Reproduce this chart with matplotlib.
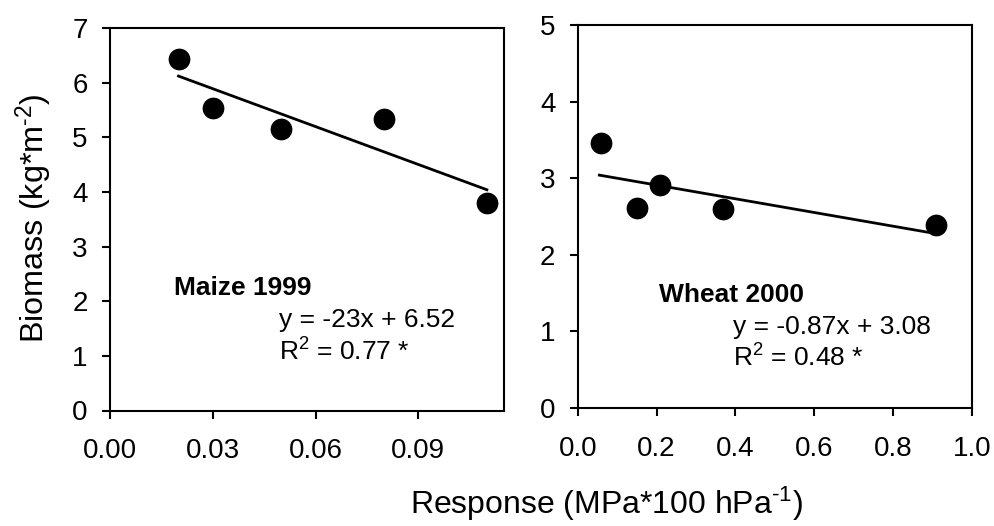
import matplotlib
matplotlib.use('Agg')
import matplotlib.pyplot as plt

plt.rcParams['font.family'] = ['Liberation Sans', 'DejaVu Sans']
plt.rcParams['mathtext.fontset'] = 'custom'
plt.rcParams['mathtext.rm'] = 'Liberation Sans'
plt.rcParams['mathtext.it'] = 'Liberation Sans:italic'
plt.rcParams['mathtext.bf'] = 'Liberation Sans:bold'

# maize 1999
maize_x = [0.02, 0.03, 0.05, 0.08, 0.11]
maize_y = [6.43, 5.53, 5.16, 5.34, 3.79]
maize_fit_x = [0.02, 0.11]
maize_fit_y = [6.12, 4.04]
maize_xticks = [0.00, 0.03, 0.06, 0.09]
maize_xticklabels = ['0.00', '0.03', '0.06', '0.09']
maize_yticks = [0, 1, 2, 3, 4, 5, 6, 7]

# wheat 2000
wheat_x = [0.06, 0.15, 0.21, 0.37, 0.91]
wheat_y = [3.46, 2.61, 2.91, 2.60, 2.39]
wheat_fit_x = [0.055, 0.905]
wheat_fit_y = [3.04, 2.28]
wheat_xticks = [0.0, 0.2, 0.4, 0.6, 0.8, 1.0]
wheat_xticklabels = ['0.0', '0.2', '0.4', '0.6', '0.8', '1.0']
wheat_yticks = [0, 1, 2, 3, 4, 5]

fig = plt.figure(figsize=(9.94, 5.26), dpi=100)
ax1 = fig.add_axes([110/994, 1-410.5/526, 394/994, 382.5/526])
ax2 = fig.add_axes([577.7/994, 1-408/526, 394/994, 383/526])


def style(ax):
	for s in ax.spines.values():
		s.set_linewidth(1.5)
	ax.tick_params(direction='out', length=6, width=1.5, labelsize=20,
		top=False, right=False)
	ax.tick_params(axis='x', pad=14)
	ax.tick_params(axis='y', pad=10)


ax1.scatter(maize_x, maize_y, s=215, color='black', zorder=3)
ax1.plot(maize_fit_x, maize_fit_y, color='black', lw=2)
ax1.set_xlim(0, 0.115)
ax1.set_ylim(0, 7)
ax1.set_xticks(maize_xticks)
ax1.set_xticklabels(maize_xticklabels)
ax1.set_yticks(maize_yticks)
style(ax1)
ax1.text(0.162, 0.32, 'Maize 1999', transform=ax1.transAxes, fontsize=19,
	fontweight='bold', va='center', ha='left')
ax1.text(0.429, 0.237, 'y = -23x + 6.52', transform=ax1.transAxes, fontsize=19,
	va='center', ha='left')
ax1.text(0.429, 0.153, 'R$^2$ = 0.77 *', transform=ax1.transAxes, fontsize=19,
	va='center', ha='left')

ax2.scatter(wheat_x, wheat_y, s=215, color='black', zorder=3)
ax2.plot(wheat_fit_x, wheat_fit_y, color='black', lw=2)
ax2.set_xlim(0, 1.0)
ax2.set_ylim(0, 5)
ax2.set_xticks(wheat_xticks)
ax2.set_xticklabels(wheat_xticklabels)
ax2.set_yticks(wheat_yticks)
style(ax2)
ax2.text(0.206, 0.295, 'Wheat 2000', transform=ax2.transAxes, fontsize=19,
	fontweight='bold', va='center', ha='left')
ax2.text(0.394, 0.211, 'y = -0.87x + 3.08', transform=ax2.transAxes, fontsize=19,
	va='center', ha='left')
ax2.text(0.394, 0.131, 'R$^2$ = 0.48 *', transform=ax2.transAxes, fontsize=19,
	va='center', ha='left')

fig.text(34/994, 1-218/526, 'Biomass (kg*m$^{\\text{-2}}$)', rotation=90, fontsize=23.3,
	ha='center', va='center')
fig.text(606/994, 1-504/526, 'Response (MPa*100 hPa$^{\\text{-1}}$)', fontsize=23,
	ha='center', va='center')

fig.savefig('out.png', dpi=100)
